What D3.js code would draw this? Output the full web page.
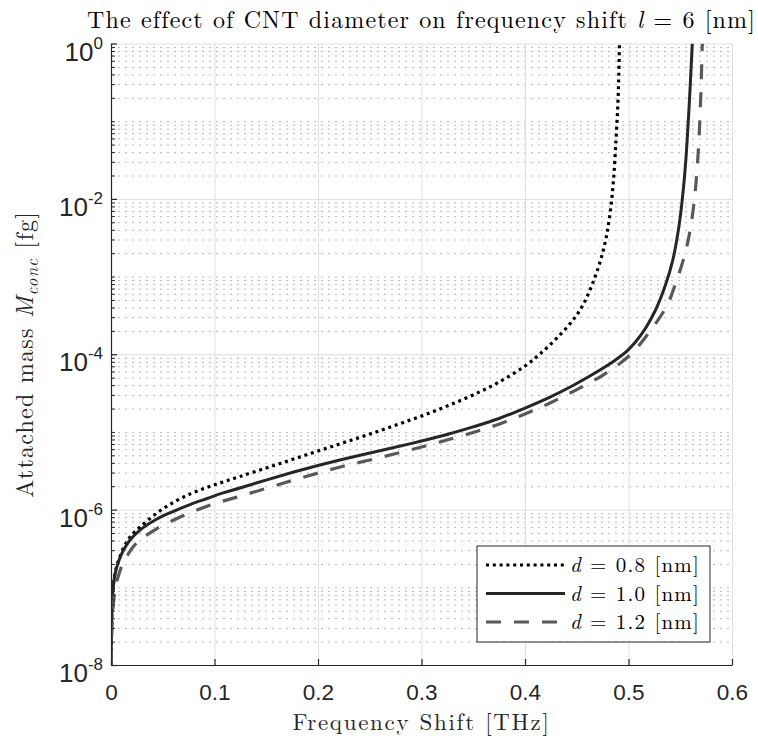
<!DOCTYPE html>
<html>
<head>
<meta charset="utf-8">
<script src="https://cdn.jsdelivr.net/npm/d3@7"></script>
<style>
    body { margin: 0; background: #fff; }
    svg { display: block; }
</style>
</head>
<body>
<svg id="grafico"></svg>
<script>
// valores (deslocamento em THz, massa em fg)
const diametros = ['0.8', '1.0', '1.2'];

const shift08 = [0, 0.0003, 0.0008, 0.0014, 0.0024, 0.0039, 0.0068, 0.0116, 0.0184, 0.028, 0.0444, 0.0599,
    0.0763, 0.0928, 0.1082, 0.1246, 0.1498, 0.1749, 0.2, 0.2251, 0.2502, 0.2754, 0.3, 0.3246, 0.3498, 0.3749,
    0.4, 0.4145, 0.4309, 0.4464, 0.456, 0.4647, 0.4725, 0.4783, 0.4826, 0.4855, 0.4879, 0.4897, 0.4906, 0.4913];
const mass08 = [1e-8, 2.10e-8, 4.40e-8, 7.28e-8, 1.10e-7, 1.53e-7, 2.12e-7, 3.11e-7, 4.44e-7, 5.97e-7, 9.04e-7, 1.23e-6,
    1.59e-6, 1.93e-6, 2.27e-6, 2.67e-6, 3.43e-6, 4.41e-6, 5.68e-6, 7.30e-6, 9.40e-6, 1.23e-5, 1.60e-5, 2.15e-5, 2.99e-5, 4.39e-5,
    7.05e-5, 1.01e-4, 1.62e-4, 2.76e-4, 4.30e-4, 7.78e-4, 1.54e-3, 3.13e-3, 7.18e-3, 1.75e-2, 5.71e-2, 0.161, 0.392, 1];

const shift10 = [0, 0.0003, 0.0008, 0.0014, 0.0024, 0.0039, 0.0068, 0.0116, 0.0184, 0.028, 0.0444, 0.0599,
    0.0763, 0.0928, 0.1082, 0.1246, 0.1498, 0.1749, 0.2, 0.2251, 0.2502, 0.2754, 0.3, 0.3246, 0.3498, 0.3749,
    0.4, 0.4242, 0.4464, 0.4725, 0.486, 0.4995, 0.5121, 0.5261, 0.5357, 0.5428, 0.5482, 0.5519, 0.5554, 0.558,
    0.5599, 0.5616];
const mass10 = [1e-8, 2.10e-8, 4.40e-8, 7.28e-8, 1.07e-7, 1.48e-7, 2.05e-7, 2.93e-7, 4.06e-7, 5.46e-7, 7.57e-7, 9.45e-7,
    1.16e-6, 1.39e-6, 1.64e-6, 1.90e-6, 2.40e-6, 3.00e-6, 3.70e-6, 4.48e-6, 5.35e-6, 6.39e-6, 7.64e-6, 9.26e-6, 1.16e-5, 1.49e-5,
    2.03e-5, 2.81e-5, 3.96e-5, 6.26e-5, 8.18e-5, 1.13e-4, 1.77e-4, 3.71e-4, 7.78e-4, 1.63e-3, 3.97e-3, 9.65e-3, 3.16e-2, 0.113,
    0.338, 1];

const shift12 = [0, 0.0004, 0.001, 0.0017, 0.0029, 0.0048, 0.0077, 0.0116, 0.0155, 0.0213, 0.028, 0.0444,
    0.0638, 0.0831, 0.1024, 0.1217, 0.1498, 0.1749, 0.2, 0.2251, 0.2502, 0.2754, 0.3, 0.3246, 0.3498, 0.3749,
    0.4, 0.4242, 0.45, 0.4754, 0.5015, 0.5176, 0.5369, 0.5466, 0.5529, 0.5577, 0.5611, 0.5636, 0.5652, 0.5675,
    0.5697, 0.5713];
const mass12 = [1e-8, 1.81e-8, 2.99e-8, 4.81e-8, 7.28e-8, 1.07e-7, 1.48e-7, 2.05e-7, 2.53e-7, 3.30e-7, 4.06e-7, 5.71e-7,
    7.68e-7, 9.88e-7, 1.22e-6, 1.45e-6, 1.87e-6, 2.37e-6, 2.96e-6, 3.64e-6, 4.35e-6, 5.27e-6, 6.39e-6, 7.87e-6, 9.83e-6, 1.26e-5,
    1.70e-5, 2.36e-5, 3.51e-5, 5.40e-5, 9.77e-5, 1.74e-4, 4.17e-4, 9.02e-4, 1.63e-3, 2.95e-3, 5.34e-3, 9.65e-3, 1.60e-2, 4.25e-2,
    0.187, 1];

const xTicks = [0, 0.1, 0.2, 0.3, 0.4, 0.5, 0.6];
const xTickLabels = ['0', '0.1', '0.2', '0.3', '0.4', '0.5', '0.6'];
const yTicks = [1e-8, 1e-6, 1e-4, 1e-2, 1];
const yTickExpoentes = ['-8', '-6', '-4', '-2', '0'];

const largura = 758, altura = 742;
const margem = { esquerda: 111, direita: 26, superior: 43.5, inferior: 77 };
const larguraPlotagem = largura - margem.esquerda - margem.direita;
const alturaPlotagem = altura - margem.superior - margem.inferior;

const serifa = '"Latin Modern Roman", "CMU Serif", "Liberation Serif", "DejaVu Serif", serif';
const sans = 'Helvetica, Arial, "Liberation Sans", sans-serif';
const corEixo = '#262626';

let svg = d3.select('#grafico')
    .attr('width', largura)
    .attr('height', altura)
    .style('background', '#fff');

let plotagem = svg.append('g')
    .attr('transform', 'translate(' + margem.esquerda + ',' + margem.superior + ')');

let fnX = d3.scaleLinear().domain([0, 0.6]).range([0, larguraPlotagem]);
let fnY = d3.scaleLog().domain([1e-8, 1]).range([alturaPlotagem, 0]);

// valores secundarios do eixo y vindos da propria escala
let yMenores = fnY.ticks().filter(v => !yTicks.some(t => Math.abs(Math.log10(v) - Math.log10(t)) < 1e-9));

// grade secundaria (pontilhada)
plotagem.append('g')
    .attr('id', 'gradeMenor')
    .call(d3.axisLeft(fnY).tickValues(yMenores).tickSize(-larguraPlotagem).tickFormat(''))
    .call(g => g.select('.domain').remove())
    .selectAll('line')
    .attr('stroke', '#b8b8b8')
    .attr('stroke-width', 1)
    .attr('stroke-dasharray', '2,5');

// grade principal
plotagem.append('g')
    .attr('id', 'gradeY')
    .call(d3.axisLeft(fnY).tickValues(yTicks).tickSize(-larguraPlotagem).tickFormat(''))
    .call(g => g.select('.domain').remove())
    .selectAll('line')
    .attr('stroke', '#dfdfdf')
    .attr('stroke-width', 1);

plotagem.append('g')
    .attr('id', 'gradeX')
    .call(d3.axisBottom(fnX).tickValues(xTicks).tickSize(alturaPlotagem).tickFormat(''))
    .call(g => g.select('.domain').remove())
    .selectAll('line')
    .attr('stroke', '#dfdfdf')
    .attr('stroke-width', 1);

// curvas
plotagem.append('clipPath').attr('id', 'recorte')
    .append('rect').attr('width', larguraPlotagem).attr('height', alturaPlotagem);

const series = [
    { chave: diametros[0], s: shift08, m: mass08, cor: '#000000', largura: 3.2, traco: '3,3.8' },
    { chave: diametros[1], s: shift10, m: mass10, cor: '#262626', largura: 3, traco: null },
    { chave: diametros[2], s: shift12, m: mass12, cor: '#595959', largura: 3.2, traco: '15,13' }
];

let linha = d3.line()
    .x(d => fnX(d[0]))
    .y(d => fnY(d[1]))
    .curve(d3.curveCatmullRom.alpha(0.5));

plotagem.append('g')
    .attr('clip-path', 'url(#recorte)')
    .selectAll('path')
    .data(series)
    .enter()
    .append('path')
    .attr('d', d => linha(d.s.map((v, i) => [v, d.m[i]])))
    .attr('fill', 'none')
    .attr('stroke', d => d.cor)
    .attr('stroke-width', d => d.largura)
    .attr('stroke-dasharray', d => d.traco);

// eixos
let eixoX = d3.axisBottom(fnX)
    .tickValues(xTicks)
    .tickFormat((d, i) => xTickLabels[i])
    .tickSizeInner(-6)
    .tickSizeOuter(0)
    .tickPadding(19);

plotagem.append('g')
    .attr('id', 'eixoX')
    .attr('transform', 'translate(0,' + alturaPlotagem + ')')
    .call(eixoX)
    .call(g => g.selectAll('line, path').attr('stroke', corEixo).attr('stroke-width', 1.2))
    .call(g => g.selectAll('text')
        .attr('fill', corEixo)
        .style('font-family', sans)
        .style('font-size', '22.5px'));

plotagem.append('g')
    .attr('id', 'eixoYMenor')
    .call(d3.axisLeft(fnY).tickValues(yMenores).tickSizeInner(-4).tickSizeOuter(0).tickFormat(''))
    .call(g => g.select('.domain').remove())
    .selectAll('line').attr('stroke', corEixo).attr('stroke-width', 1);

plotagem.append('g')
    .attr('id', 'eixoY')
    .call(d3.axisLeft(fnY).tickValues(yTicks).tickSizeInner(-6).tickSizeOuter(0).tickFormat(''))
    .call(g => g.selectAll('line, path').attr('stroke', corEixo).attr('stroke-width', 1.2));

let rotulosY = plotagem.append('g')
    .selectAll('text')
    .data(yTicks)
    .enter()
    .append('text')
    .attr('x', -8)
    .attr('y', d => fnY(d) + 17)
    .attr('text-anchor', 'end')
    .attr('fill', corEixo)
    .style('font-family', sans)
    .style('font-size', '26px');

rotulosY.append('tspan').text('10');
rotulosY.append('tspan')
    .attr('dy', -12)
    .style('font-size', '17px')
    .text((d, i) => yTickExpoentes[i]);

// espaca as letras para ocupar a largura medida no original
function ajuste(texto, alvo) {
    let w = texto.node().getComputedTextLength();
    let n = texto.text().length;
    if (w > 0 && n > 1) texto.style('letter-spacing', ((alvo - w) / n).toFixed(2) + 'px');
}

let titulo = svg.append('text')
    .attr('x', margem.esquerda + larguraPlotagem / 2)
    .attr('y', 28)
    .attr('text-anchor', 'middle')
    .attr('fill', '#000')
    .style('font-family', serifa)
    .style('font-size', '24px');
titulo.append('tspan').text('The effect of CNT diameter on frequency shift ');
titulo.append('tspan').style('font-style', 'italic').text('l');
titulo.append('tspan').text(' = 6 [nm]');
ajuste(titulo, 668);

let tituloX = svg.append('text')
    .attr('x', margem.esquerda + larguraPlotagem / 2)
    .attr('y', 730)
    .attr('text-anchor', 'middle')
    .attr('fill', corEixo)
    .style('font-family', serifa)
    .style('font-size', '23px')
    .text('Frequency Shift [THz]');
ajuste(tituloX, 258);

let tituloY = svg.append('text')
    .attr('transform', 'translate(33,' + (margem.superior + alturaPlotagem / 2) + ') rotate(-90)')
    .attr('text-anchor', 'middle')
    .attr('fill', corEixo)
    .style('font-family', serifa)
    .style('font-size', '24px');
tituloY.append('tspan').text('Attached mass ');
tituloY.append('tspan').style('font-style', 'italic').text('M');
tituloY.append('tspan').style('font-style', 'italic').style('font-size', '0.7em').attr('dy', 5).text('conc');
tituloY.append('tspan').attr('dy', -5).text(' [fg]');
ajuste(tituloY, 287);

// legenda
let legenda = svg.append('g').attr('transform', 'translate(477,546)');
legenda.append('rect')
    .attr('width', 233)
    .attr('height', 96)
    .attr('fill', '#fff')
    .attr('stroke', corEixo)
    .attr('stroke-width', 1);

let itens = legenda.selectAll('.item')
    .data(series)
    .enter()
    .append('g')
    .classed('item', true)
    .attr('transform', (d, i) => 'translate(0,' + (19 + i * 28.5) + ')');

itens.append('line')
    .attr('x1', 9).attr('x2', 88)
    .attr('stroke', d => d.cor)
    .attr('stroke-width', d => d.largura)
    .attr('stroke-dasharray', d => d.traco);

let textosLegenda = itens.append('text')
    .attr('x', 93)
    .attr('y', 7)
    .attr('fill', '#000')
    .style('font-family', serifa)
    .style('font-size', '21px');
textosLegenda.append('tspan').style('font-style', 'italic').text('d');
textosLegenda.append('tspan').text(d => ' = ' + d.chave + ' [nm]');
textosLegenda.each(function () { ajuste(d3.select(this), 130); });
</script>
</body>
</html>
